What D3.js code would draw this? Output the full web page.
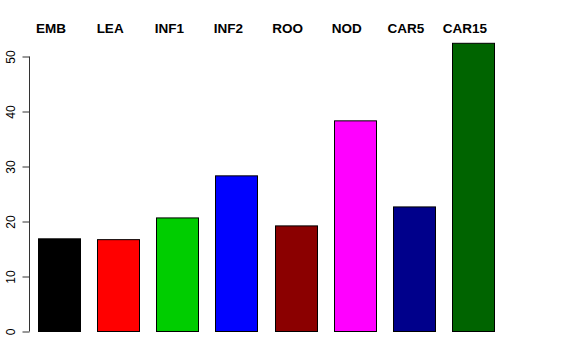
<!DOCTYPE html>
<html><head><meta charset="utf-8">
<script src="https://cdn.jsdelivr.net/npm/d3@7"></script>
<style>body{margin:0;background:#fff}svg{display:block}</style>
</head><body>
<svg id="c" width="576" height="360"></svg>
<script>
const categories = ["EMB","LEA","INF1","INF2","ROO","NOD","CAR5","CAR15"];
const values = [16.85, 16.7, 20.65, 28.3, 19.2, 38.3, 22.65, 52.4];
const colors = ["#000000","#FF0000","#00CD00","#0000FF","#8B0000","#FF00FF","#00008B","#006400"];
const yTicks = [0,10,20,30,40,50];

const svg = d3.select("#c");
const x = d3.scaleBand().domain(categories).range([38, 494]).paddingInner(0.29).paddingOuter(0);
const y = d3.scaleLinear().domain([0,50]).range([331,56]);

svg.selectAll("rect.bar").data(categories).join("rect")
  .attr("class","bar")
  .attr("x", d => Math.round(x(d)) + 0.5)
  .attr("width", Math.round(x.bandwidth()))
  .attr("y", (d,i) => y(values[i]) + 0.5)
  .attr("height", (d,i) => y(0) - y(values[i]))
  .attr("fill", (d,i) => colors[i])
  .attr("stroke", "#000").attr("stroke-width", 1);

const axis = d3.axisLeft(y).tickValues(yTicks).tickSize(7).tickPadding(0).tickFormat(d3.format("d"));
const g = svg.append("g").attr("transform","translate(29.5,0.5)").call(axis);
g.select(".domain").attr("d", `M0,${y(0)}V${y(50)}`).attr("stroke","#333");
g.selectAll(".tick line").attr("stroke","#333");
g.selectAll(".tick text")
  .attr("font-family","Liberation Sans, Arial, sans-serif").attr("font-size",12).attr("fill","#000")
  .attr("text-anchor","middle")
  .attr("transform","translate(-19,0) rotate(-90)")
  .attr("x",0).attr("y",0).attr("dy","0.35em");

svg.selectAll("text.lab").data(categories).join("text")
  .attr("class","lab")
  .attr("x", d => x(d) + x.bandwidth()/2 - 8)
  .attr("y", 33)
  .attr("text-anchor","middle")
  .attr("font-family","Liberation Sans, Arial, sans-serif")
  .attr("font-weight","bold").attr("font-size",13.5)
  .text(d => d);
</script>
</body></html>
